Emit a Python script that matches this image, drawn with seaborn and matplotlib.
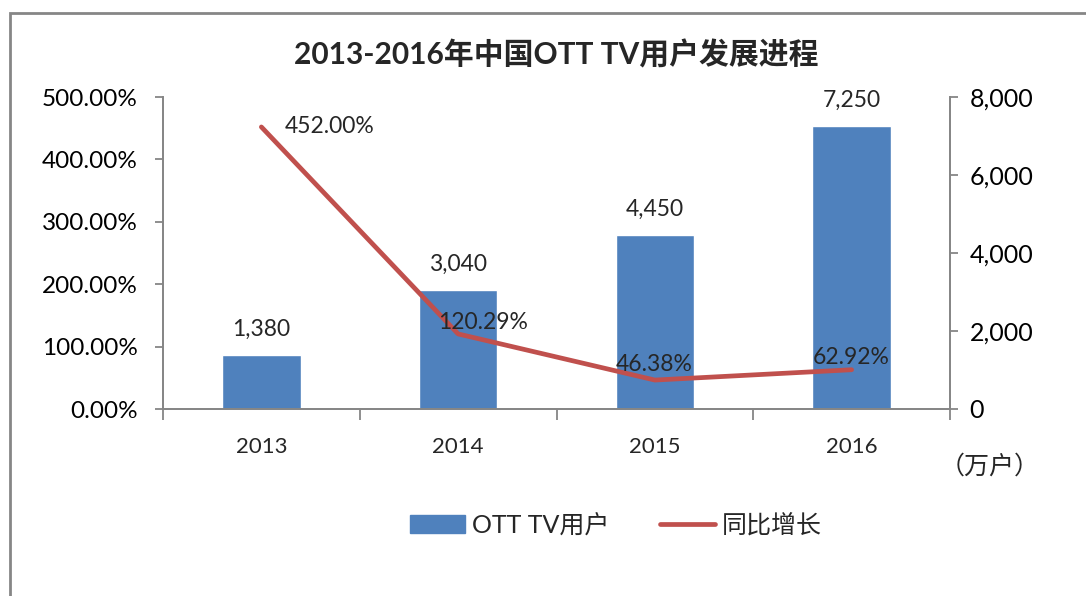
import matplotlib
matplotlib.use("Agg")
import matplotlib.pyplot as plt
import matplotlib.patches as mpatches
from matplotlib.lines import Line2D
from matplotlib.ticker import FuncFormatter, MultipleLocator
import seaborn as sns
import pandas as pd

# datos del gráfico
years = ["2013", "2014", "2015", "2016"]
users = [1380, 3040, 4450, 7250]          # 万户
growth = [452.00, 120.29, 46.38, 62.92]   # %

sns.set_theme(style="white")
plt.rcParams['font.family'] = ['Lato', 'Noto Sans CJK SC', 'DejaVu Sans']

blue = "#4F81BD"
red = "#C0504D"
gray = "#868686"

df = pd.DataFrame({"year": years, "users": users, "growth": growth})

fig = plt.figure(figsize=(10.86, 5.96), dpi=100)
ax = fig.add_axes([163 / 1086, 1 - 409 / 596, 787 / 1086, 312 / 596])

# barras: eje derecho (万户)
sns.barplot(data=df, x="year", y="users", color=blue, width=0.4,
            saturation=1, ax=ax, zorder=2)
for i, v in enumerate(users):
    ax.text(i, v + 400, f"{v:,}", ha="center", va="bottom", fontsize=16.5)

# línea: eje izquierdo (%)
ax2 = ax.twinx()
sns.pointplot(data=df, x="year", y="growth", color=red, markers="",
              ax=ax2, errorbar=None)
for ln in ax2.lines:
    ln.set_solid_capstyle("round")
    ln.set_linewidth(3.4)

label_pos = [(0.12, 452.00), (-0.1, 139), (-0.2, 71), (-0.2, 82)]
for i, g in enumerate(growth):
    lx, ly = label_pos[i]
    ax2.text(i + lx, ly, f"{g:.2f}%", ha="left", va="center", fontsize=16.5)

# ejes (después de twinx, que reinicia los ticks)
ax.set_ylim(0, 8000)
ax.yaxis.tick_right()
ax.yaxis.set_major_locator(MultipleLocator(2000))
ax.yaxis.set_major_formatter(FuncFormatter(lambda v, p: f"{v:,.0f}"))
ax2.set_ylim(0, 500)
ax2.yaxis.tick_left()
ax2.yaxis.set_major_locator(MultipleLocator(100))
ax2.yaxis.set_major_formatter(FuncFormatter(lambda v, p: f"{v:.2f}%"))

ax.set_xlim(-0.5, 3.5)
ax2.set_xlim(-0.5, 3.5)
for a in (ax, ax2):
    a.set_xlabel("")
    a.set_ylabel("")
    for s in a.spines.values():
        s.set_color(gray)
        s.set_linewidth(1.3)
    a.spines["top"].set_visible(False)
ax.tick_params(axis="y", length=6, width=1.3, color=gray, labelsize=18,
               pad=8, labelcolor="black")
ax2.tick_params(axis="y", length=6, width=1.3, color=gray, labelsize=17.5,
                pad=12, labelcolor="black")

# marcas del eje x en los límites de categoría
ax.set_xticks([0, 1, 2, 3])
ax.set_xticklabels(years)
ax.set_xticks([-0.5, 0.5, 1.5, 2.5, 3.5], minor=True)
ax.tick_params(axis="x", which="major", length=0, labelsize=16, pad=20)
ax.tick_params(axis="x", which="minor", length=8, width=1.3, color=gray,
               direction="out", bottom=True)
ax2.tick_params(axis="x", length=0)

fig.text(556 / 1086, 1 - 55 / 596, "2013-2016年中国OTT TV用户发展进程",
         ha="center", va="center", fontsize=21.5, fontweight="bold")
fig.text(990 / 1086, 1 - 467 / 596, "（万户）", ha="center", va="center",
         fontsize=18, family=['Noto Sans CJK SC', 'DejaVu Sans'])

handles = [mpatches.Patch(color=blue),
           Line2D([0], [0], color=red, lw=3.4, solid_capstyle="round")]
fig.legend(handles, ["OTT TV用户", "同比增长"], loc="center",
           bbox_to_anchor=(616 / 1086, 1 - 525 / 596), ncol=2, frameon=False,
           fontsize=18, handlelength=2.2, handleheight=0.7, columnspacing=2.0,
           handletextpad=0.3)

# marco exterior
fig.add_artist(mpatches.Rectangle((10 / 1086, -0.05), 1.2, 1 - 13 / 596 + 0.05,
                                  transform=fig.transFigure, fill=False,
                                  edgecolor=gray, linewidth=2))

fig.savefig("out.png", dpi=100)
